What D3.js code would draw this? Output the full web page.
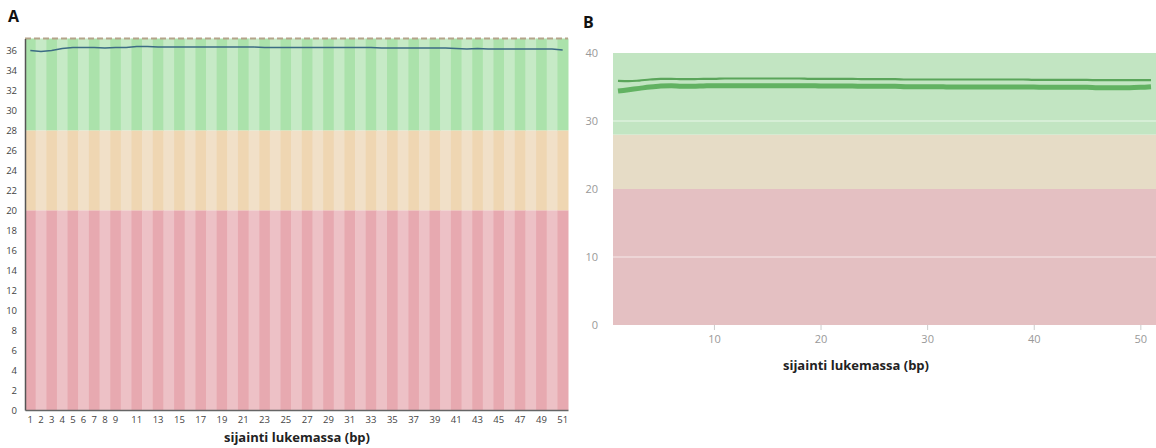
<!DOCTYPE html>
<html lang="en">
<head>
  <meta charset="UTF-8">
  <title>Laatu</title>
  <style type="text/css">
     body{ margin:0; background:#fff; }
     svg text{ font-family:"Open Sans", "DejaVu Sans", sans-serif; }
  </style>
  <script src="https://d3js.org/d3.v7.min.js"></script>
</head>
<body>
<svg></svg>
<script>
  // positions in the read (bp)
  const positions = [1,2,3,4,5,6,7,8,9,10,11,12,13,14,15,16,17,18,19,20,21,22,23,24,25,26,
                     27,28,29,30,31,32,33,34,35,36,37,38,39,40,41,42,43,44,45,46,47,48,49,50,51];
  const labelsA = [1,2,3,4,5,6,7,8,9,11,13,15,17,19,21,23,25,27,29,31,33,35,37,39,41,43,45,47,49,51];
  const yTicksA = [0,2,4,6,8,10,12,14,16,18,20,22,24,26,28,30,32,34,36];
  // panel A mean quality
  const meanA = [36.0,35.9,36.0,36.2,36.3,36.3,36.3,36.25,36.3,36.3,36.4,36.4,36.35,36.35,36.35,36.35,
                 36.35,36.35,36.35,36.35,36.35,36.35,36.3,36.3,36.3,36.3,36.3,36.3,36.3,36.3,36.3,36.3,
                 36.3,36.25,36.25,36.25,36.25,36.25,36.25,36.25,36.2,36.15,36.2,36.15,36.15,36.15,36.15,
                 36.15,36.15,36.15,36.05];
  // panel B two samples
  const thinB = [35.9,35.85,35.95,36.1,36.2,36.2,36.15,36.15,36.2,36.2,36.25,36.25,36.25,36.25,36.25,
                 36.25,36.25,36.25,36.2,36.2,36.2,36.2,36.2,36.15,36.15,36.15,36.15,36.1,36.1,36.1,36.1,
                 36.1,36.1,36.1,36.1,36.1,36.1,36.1,36.1,36.05,36.05,36.05,36.05,36.05,36.05,36.0,36.0,
                 36.0,36.0,36.0,36.0];
  const thickB = [34.4,34.6,34.8,35.0,35.15,35.2,35.1,35.1,35.15,35.2,35.2,35.2,35.2,35.2,35.2,35.2,
                  35.2,35.2,35.2,35.15,35.15,35.15,35.15,35.1,35.1,35.1,35.1,35.05,35.05,35.05,35.05,
                  35.0,35.0,35.0,35.0,35.0,35.0,35.0,35.0,35.0,34.95,34.95,34.95,34.95,34.95,34.9,34.9,
                  34.9,34.9,34.95,35.05];
  const yTicksB = [0,10,20,30,40];
  const xTicksB = [10,20,30,40,50];
  const zones = [{lo:0, hi:20, name:"red"},{lo:20, hi:28, name:"orange"},{lo:28, hi:40, name:"green"}];

  const svg = d3.select("svg").attr("width",1156).attr("height",448);

  // ---------- panel A ----------
  const colA = {green:["#abe2ab","#c6eac6"], orange:["#efd6b2","#f1e0c8"], red:["#e7a9b0","#edc1c6"]};
  const xA = d3.scaleBand().domain(positions).range([25,568]);
  const yA = d3.scaleLinear().domain([0,37.2]).range([410,38.5]);

  const gA = svg.append("g");
  zones.forEach(z => {
    gA.selectAll(null).data(positions).enter().append("rect")
      .attr("x", d => xA(d))
      .attr("width", xA.bandwidth()+0.5)
      .attr("y", yA(Math.min(z.hi,37.2)))
      .attr("height", yA(z.lo) - yA(Math.min(z.hi,37.2)))
      .attr("fill", (d,i) => colA[z.name][i%2]);
  });

  // dashed top line
  gA.append("line").attr("x1",25).attr("x2",568).attr("y1",yA(37.2)).attr("y2",yA(37.2))
    .attr("stroke","#b4a48a").attr("stroke-width",2).attr("stroke-dasharray","6,3");

  gA.append("path").datum(meanA)
    .attr("fill","none").attr("stroke","#3c6c84").attr("stroke-width",1.4)
    .attr("d", d3.line().x((d,i) => xA(positions[i]) + xA.bandwidth()/2).y(d => yA(d)));

  const axA = gA.append("g").attr("transform","translate(0,410)")
    .call(d3.axisBottom(xA).tickValues(labelsA).tickSize(0).tickPadding(6));
  axA.select(".domain").attr("stroke","#666").attr("stroke-width",1.5);
  axA.selectAll("text").attr("font-size",9.5).attr("fill","#444");

  const ayA = gA.append("g").attr("transform","translate(25,0)")
    .call(d3.axisLeft(yA).tickValues(yTicksA).tickSize(0).tickPadding(8));
  ayA.select(".domain").attr("stroke","#555").attr("stroke-width",1.5);
  ayA.selectAll("text").attr("font-size",9.5).attr("fill","#444");

  gA.append("text").attr("x",297).attr("y",442).attr("text-anchor","middle")
    .attr("font-size",13).attr("font-weight","bold").attr("fill","#222").text("sijainti lukemassa (bp)");
  gA.append("text").attr("x",8).attr("y",22)
    .attr("font-size",16).attr("font-weight","bold").attr("fill","#111").text("A");

  // ---------- panel B ----------
  const colB = {green:"#c2e5c2", orange:"#e6dcc6", red:"#e4c0c2"};
  const xB = d3.scaleLinear().domain([1,51]).range([618,1151]);
  const yB = d3.scaleLinear().domain([0,40]).range([325,53]);

  const gB = svg.append("g");
  gB.selectAll(null).data(zones).enter().append("rect")
    .attr("x",613).attr("width",543)
    .attr("y", d => yB(d.hi)).attr("height", d => yB(d.lo) - yB(d.hi))
    .attr("fill", d => colB[d.name]);

  // grid lines
  gB.selectAll(null).data([10,30]).enter().append("line")
    .attr("x1",613).attr("x2",1156).attr("y1",d => yB(d)).attr("y2",d => yB(d))
    .attr("stroke","#ffffff").attr("stroke-opacity",0.45).attr("stroke-width",1.5);

  const lineB = d3.line().curve(d3.curveMonotoneX).x((d,i) => xB(positions[i])).y(d => yB(d));
  gB.append("path").datum(thickB).attr("fill","none").attr("stroke","#62b262")
    .attr("stroke-width",5).attr("d",lineB);
  gB.append("path").datum(thinB).attr("fill","none").attr("stroke","#5aa55a")
    .attr("stroke-width",2.2).attr("d",lineB);

  const axB = gB.append("g").attr("transform","translate(0,325)")
    .call(d3.axisBottom(xB).tickValues(xTicksB).tickSize(5).tickPadding(5));
  axB.select(".domain").remove();
  axB.selectAll("line").attr("stroke","#ccc");
  axB.selectAll("text").attr("font-size",11).attr("fill","#999");

  const ayB = gB.append("g").attr("transform","translate(598,0)")
    .call(d3.axisLeft(yB).tickValues(yTicksB).tickSize(0).tickPadding(0));
  ayB.select(".domain").remove();
  ayB.selectAll("text").attr("font-size",11).attr("fill","#999");

  gB.append("text").attr("x",856).attr("y",370).attr("text-anchor","middle")
    .attr("font-size",13).attr("font-weight","bold").attr("fill","#222").text("sijainti lukemassa (bp)");
  gB.append("text").attr("x",583).attr("y",28)
    .attr("font-size",16).attr("font-weight","bold").attr("fill","#111").text("B");
</script>
</body>
</html>
